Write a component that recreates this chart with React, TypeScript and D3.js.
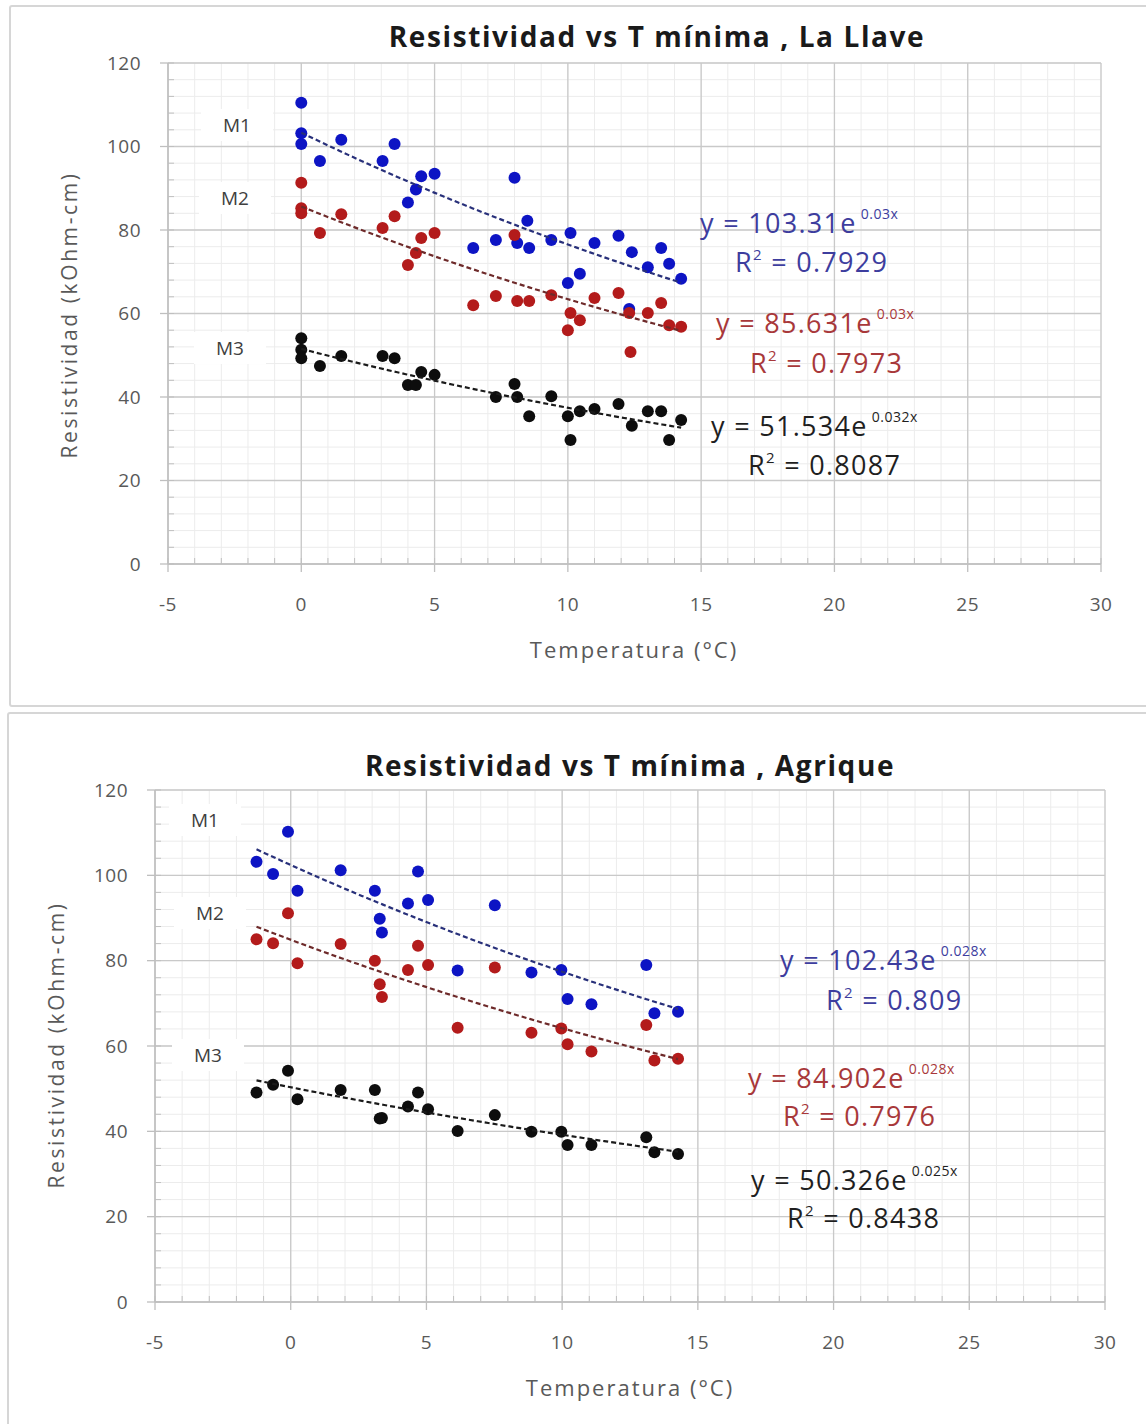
import React from "react";
import * as d3 from "d3";

// ---------- shared axis values ----------
const xTickValues = [-5, 0, 5, 10, 15, 20, 25, 30];
const yTickValues = [0, 20, 40, 60, 80, 100, 120];
const xMinorStep = 1;
const yMinorStep = 4;

// ---------- La Llave (top) ----------
const llaveM1X = [0, 0, 0, 0.7, 1.5, 3.05, 3.5, 4.0, 4.3, 4.5, 5.0, 6.45, 7.3, 8.0, 8.1, 8.48, 8.55, 9.38, 10.0, 10.1, 10.45, 11.0, 11.9, 12.3, 12.4, 13.0, 13.5, 13.8, 14.25];
const llaveM1Y = [110.5, 103.2, 100.6, 96.5, 101.6, 96.5, 100.6, 86.6, 89.7, 92.9, 93.5, 75.7, 77.6, 92.5, 76.9, 82.2, 75.7, 77.6, 67.3, 79.3, 69.5, 76.9, 78.6, 61.1, 74.7, 71.1, 75.7, 71.9, 68.3];
const llaveM2X = [0, 0, 0, 0.7, 1.5, 3.05, 3.5, 4.0, 4.3, 4.5, 5.0, 6.45, 7.3, 8.0, 8.1, 8.55, 9.38, 10.0, 10.1, 10.45, 11.0, 11.9, 12.3, 12.35, 13.0, 13.5, 13.8, 14.25];
const llaveM2Y = [91.3, 85.2, 84.0, 79.3, 83.8, 80.5, 83.3, 71.6, 74.5, 78.1, 79.3, 62.0, 64.2, 78.8, 63.0, 63.0, 64.4, 56.0, 60.1, 58.4, 63.7, 64.9, 60.1, 50.8, 60.1, 62.5, 57.2, 56.8];
const llaveM3X = [0, 0, 0, 0.7, 1.5, 3.05, 3.5, 4.0, 4.3, 4.5, 5.0, 7.3, 8.0, 8.1, 8.55, 9.38, 10.0, 10.1, 10.45, 11.0, 11.9, 12.4, 13.0, 13.5, 13.8, 14.25];
const llaveM3Y = [54.1, 51.3, 49.3, 47.4, 49.8, 49.8, 49.3, 42.9, 42.9, 46.0, 45.3, 40.0, 43.1, 40.0, 35.4, 40.2, 35.4, 29.7, 36.6, 37.1, 38.3, 33.1, 36.6, 36.6, 29.7, 34.5];
const llaveFits = [
  { a: 103.31, b: -0.03, eq: "y = 103.31e", exp: "0.03x", r2: "= 0.7929" },
  { a: 85.631, b: -0.03, eq: "y = 85.631e", exp: "0.03x", r2: "= 0.7973" },
  { a: 51.534, b: -0.032, eq: "y = 51.534e", exp: "0.032x", r2: "= 0.8087" },
];

// ---------- Agrique (bottom) ----------
const agriqueX = [-1.26, -0.65, -0.1, 0.25, 1.84, 3.1, 3.28, 3.36, 4.32, 4.69, 5.06, 6.15, 7.52, 8.87, 9.97, 10.2, 11.08, 13.1, 13.4, 14.27];
const agriqueM1Y = [103.2, 100.3, 110.2, 96.4, 101.2, 96.4, 89.8, 86.6, 93.4, 100.9, 94.2, 77.7, 93.0, 77.2, 77.8, 71.0, 69.8, 79.0, 67.7, 68.0];
const agriqueM2Y = [85.0, 84.1, 91.1, 79.4, 83.9, 80.0, 74.5, 71.5, 77.8, 83.5, 79.0, 64.3, 78.4, 63.1, 64.1, 60.4, 58.7, 64.9, 56.6, 57.0];
const agriqueM3Y = [49.1, 50.9, 54.2, 47.5, 49.7, 49.7, 43.0, 43.1, 45.8, 49.1, 45.2, 40.1, 43.8, 39.9, 39.9, 36.8, 36.8, 38.6, 35.1, 34.7];
const agriqueFits = [
  { a: 102.43, b: -0.028, eq: "y = 102.43e", exp: "0.028x", r2: "= 0.809" },
  { a: 84.902, b: -0.028, eq: "y = 84.902e", exp: "0.028x", r2: "= 0.7976" },
  { a: 50.326, b: -0.025, eq: "y = 50.326e", exp: "0.025x", r2: "= 0.8438" },
];

const seriesNames = ["M1", "M2", "M3"];
const pointColors = ["#0d14c4", "#b31b1b", "#0d0d0d"];
const lineColors = ["#28307a", "#6e2a2a", "#1a1a1a"];
const textColors = ["#3d3d9e", "#a8383a", "#1f1f1f"];

const FONT = "'Open Sans', 'Liberation Sans', sans-serif";

type Layout = {
  panel: [number, number, number, number];
  plot: { left: number; right: number; top: number; bottom: number };
  title: string;
  titleXY: [number, number];
  yTitleXY: [number, number];
  xTitleXY: [number, number];
  mLabels: [number, number][];
  eqPos: { eq: [number, number]; r2: [number, number] }[];
};

function Chart({ layout, xs, ys, fits }: { layout: Layout; xs: number[][]; ys: number[][]; fits: typeof llaveFits }) {
  const { plot } = layout;
  const x = d3.scaleLinear().domain([-5, 30]).range([plot.left, plot.right]);
  const y = d3.scaleLinear().domain([0, 120]).range([plot.bottom, plot.top]);
  const xMinor = d3.range(-5, 30 + 0.001, xMinorStep);
  const yMinor = d3.range(0, 120 + 0.001, yMinorStep);

  const [px, py, pw, ph] = layout.panel;

  return (
    <g>
      <rect x={px} y={py} width={pw} height={ph} fill="#fff" stroke="#d6d6d6" strokeWidth={2} rx={2} />
      {/* minor grid */}
      {xMinor.map((v, i) => (
        <line key={"xm" + i} x1={x(v)} x2={x(v)} y1={plot.top} y2={plot.bottom} stroke="#ececec" strokeWidth={1} />
      ))}
      {yMinor.map((v, i) => (
        <line key={"ym" + i} x1={plot.left} x2={plot.right} y1={y(v)} y2={y(v)} stroke="#ececec" strokeWidth={1} />
      ))}
      {/* major grid */}
      {xTickValues.map((v, i) => (
        <line key={"xM" + i} x1={x(v)} x2={x(v)} y1={plot.top} y2={plot.bottom} stroke="#c9c9c9" strokeWidth={1.3} />
      ))}
      {yTickValues.map((v, i) => (
        <line key={"yM" + i} x1={plot.left} x2={plot.right} y1={y(v)} y2={y(v)} stroke="#c9c9c9" strokeWidth={1.3} />
      ))}
      {/* axes */}
      <line x1={plot.left} x2={plot.left} y1={plot.top} y2={plot.bottom} stroke="#bfbfbf" strokeWidth={1.5} />
      <line x1={plot.left} x2={plot.right} y1={plot.bottom} y2={plot.bottom} stroke="#bfbfbf" strokeWidth={1.5} />
      {yMinor.map((v, i) => (
        <line key={"ymt" + i} x1={plot.left} x2={plot.left + 6} y1={y(v)} y2={y(v)} stroke="#bfbfbf" strokeWidth={1} />
      ))}
      {xMinor.map((v, i) => (
        <line key={"xmt" + i} x1={x(v)} x2={x(v)} y1={plot.bottom} y2={plot.bottom - 6} stroke="#bfbfbf" strokeWidth={1} />
      ))}
      {yTickValues.map((v, i) => (
        <line key={"yMt" + i} x1={plot.left - 8} x2={plot.left} y1={y(v)} y2={y(v)} stroke="#bfbfbf" strokeWidth={1.3} />
      ))}
      {xTickValues.map((v, i) => (
        <line key={"xMt" + i} x1={x(v)} x2={x(v)} y1={plot.bottom} y2={plot.bottom + 8} stroke="#bfbfbf" strokeWidth={1.3} />
      ))}
      {/* tick labels */}
      {yTickValues.map((v, i) => (
        <text key={"yl" + i} x={plot.left - 27} y={y(v)} dy="0.35em" textAnchor="end" fontSize={19} letterSpacing={0.5} fill="#595959" fontFamily={FONT}>
          {v}
        </text>
      ))}
      {xTickValues.map((v, i) => (
        <text key={"xl" + i} x={x(v)} y={plot.bottom + 47} textAnchor="middle" fontSize={19} letterSpacing={0.5} fill="#595959" fontFamily={FONT}>
          {v}
        </text>
      ))}
      {/* titles */}
      <text x={layout.titleXY[0]} y={layout.titleXY[1]} textAnchor="middle" fontSize={28} letterSpacing={1.6} fontWeight="bold" fill="#1a1a1a" fontFamily={FONT}>
        {layout.title}
      </text>
      <text
        transform={`translate(${layout.yTitleXY[0]},${layout.yTitleXY[1]}) rotate(-90)`}
        textAnchor="middle"
        dy="0.35em"
        fontSize={21}
        letterSpacing={2.6}
        fill="#595959"
        fontFamily={FONT}
      >
        Resistividad (kOhm-cm)
      </text>
      <text x={layout.xTitleXY[0]} y={layout.xTitleXY[1]} textAnchor="middle" fontSize={22} letterSpacing={2} fill="#595959" fontFamily={FONT}>
        Temperatura (°C)
      </text>
      {/* M labels */}
      {layout.mLabels.map(([lx, ly], i) => (
        <g key={"m" + i}>
          <rect x={lx - 36} y={ly - 16} width={72} height={32} fill="#fff" />
          <text x={lx} y={ly} dy="0.35em" textAnchor="middle" fontSize={19} fill="#404040" fontFamily={FONT}>
            {seriesNames[i]}
          </text>
        </g>
      ))}
      {/* points */}
      {xs.map((sx, s) =>
        sx.map((v, i) => <circle key={`p${s}-${i}`} cx={x(v)} cy={y(ys[s][i])} r={6} fill={pointColors[s]} />)
      )}
      {/* trend lines */}
      {fits.map((f, s) => {
        const lo = d3.min(xs[s]) as number;
        const hi = d3.max(xs[s]) as number;
        const pts = d3.range(0, 41).map((k) => lo + ((hi - lo) * k) / 40);
        const line = d3
          .line<number>()
          .x((v) => x(v))
          .y((v) => y(f.a * Math.exp(f.b * v)));
        return <path key={"t" + s} d={line(pts) || ""} fill="none" stroke={lineColors[s]} strokeWidth={2.2} strokeDasharray="5,3" />;
      })}
      {/* equations */}
      {fits.map((f, s) => (
        <g key={"e" + s} fill={textColors[s]} fontFamily={FONT}>
          <text x={layout.eqPos[s].eq[0]} y={layout.eqPos[s].eq[1]} fontSize={27} letterSpacing={1.3}>
            {f.eq}
            <tspan fontSize={14} letterSpacing={0.5} dx={4} dy={-14}>
              {f.exp}
            </tspan>
          </text>
          <text x={layout.eqPos[s].r2[0]} y={layout.eqPos[s].r2[1]} fontSize={27} letterSpacing={1.3}>
            R
            <tspan fontSize={15} dy={-12}>
              2
            </tspan>
            <tspan dy={12}> {f.r2}</tspan>
          </text>
        </g>
      ))}
    </g>
  );
}

const topLayout: Layout = {
  panel: [10, 6, 1140, 700],
  plot: { left: 168, right: 1101, top: 63, bottom: 564 },
  title: "Resistividad vs T mínima , La Llave",
  titleXY: [657, 47],
  yTitleXY: [70, 315],
  xTitleXY: [634, 658],
  mLabels: [
    [237, 125],
    [235, 198],
    [230, 348],
  ],
  eqPos: [
    { eq: [700, 233], r2: [735, 272] },
    { eq: [716, 333], r2: [750, 373] },
    { eq: [711, 436], r2: [748, 475] },
  ],
};

const bottomLayout: Layout = {
  panel: [8, 713, 1142, 720],
  plot: { left: 155, right: 1105, top: 790, bottom: 1302 },
  title: "Resistividad vs T mínima , Agrique",
  titleXY: [630, 776],
  yTitleXY: [57, 1045],
  xTitleXY: [630, 1396],
  mLabels: [
    [205, 820],
    [210, 913],
    [208, 1055],
  ],
  eqPos: [
    { eq: [780, 970], r2: [826, 1010] },
    { eq: [748, 1088], r2: [783, 1126] },
    { eq: [751, 1190], r2: [787, 1228] },
  ],
};

export default function App() {
  return (
    <svg width={1146} height={1424} style={{ position: "absolute", left: 0, top: 0, background: "#fff" }}>
      <rect width={1146} height={1424} fill="#fff" />
      <Chart layout={topLayout} xs={[llaveM1X, llaveM2X, llaveM3X]} ys={[llaveM1Y, llaveM2Y, llaveM3Y]} fits={llaveFits} />
      <Chart layout={bottomLayout} xs={[agriqueX, agriqueX, agriqueX]} ys={[agriqueM1Y, agriqueM2Y, agriqueM3Y]} fits={agriqueFits} />
    </svg>
  );
}
